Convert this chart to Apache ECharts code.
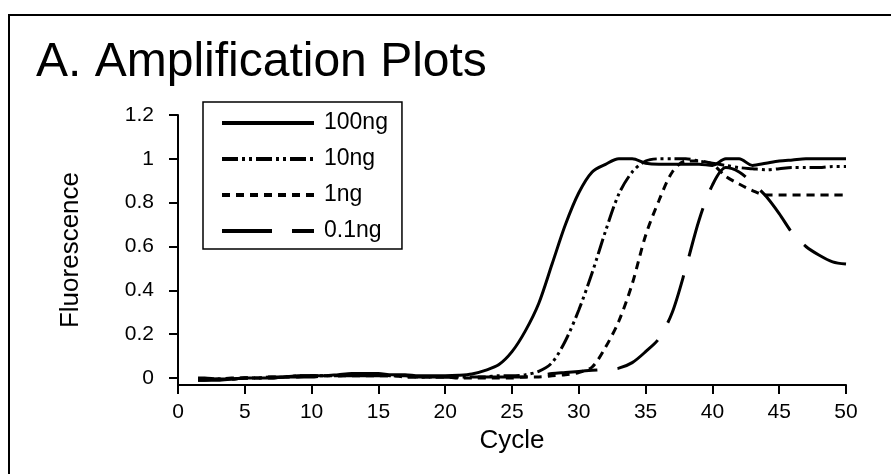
<!DOCTYPE html>
<html>
<head>
<meta charset="utf-8">
<script src="https://cdn.jsdelivr.net/npm/echarts@6/dist/echarts.min.js"></script>
<style>
html, body { margin: 0; padding: 0; background: #fff; }
#chart { width: 891px; height: 474px; }
</style>
</head>
<body>
<div id="chart"></div>
<script>
// cycle numbers on the x axis
var cycles = [1.5, 2, 3, 4, 5, 6, 7, 8, 9, 10,
  11, 12, 13, 14, 15, 16, 17, 18, 19, 20,
  21, 22, 23, 24, 25, 26, 27, 28, 29, 30,
  31, 32, 33, 34, 35, 36, 37, 38, 39, 40,
  41, 42, 43, 44, 45, 46, 47, 48, 49, 50];

var ng100 = [-0.01, -0.01, -0.01, -0.005, 0, 0, 0, 0.005, 0.01, 0.01,
  0.01, 0.015, 0.02, 0.02, 0.02, 0.015, 0.015, 0.01, 0.01, 0.01,
  0.012, 0.018, 0.035, 0.06, 0.12, 0.215, 0.34, 0.52, 0.70, 0.845,
  0.94, 0.975, 1.0, 1.0, 0.98, 0.975, 0.975, 0.975, 0.975, 0.97,
  1.0, 1.0, 0.97, 0.98, 0.99, 0.995, 1.0, 1.0, 1.0, 1.0];

var ng10 = [0, 0, -0.005, -0.005, 0, 0, 0.005, 0.005, 0.01, 0.01,
  0.01, 0.01, 0.015, 0.015, 0.015, 0.01, 0.01, 0.005, 0.005, 0.005,
  0.005, 0.005, 0.005, 0.01, 0.01, 0.015, 0.03, 0.07, 0.17, 0.31,
  0.48, 0.67, 0.84, 0.94, 0.99, 1.0, 1.0, 1.0, 0.99, 0.98,
  0.97, 0.96, 0.955, 0.95, 0.955, 0.96, 0.96, 0.96, 0.965, 0.965];

var ng1 = [-0.005, -0.005, -0.005, 0, 0, 0, 0.005, 0.005, 0.005, 0.01,
  0.01, 0.01, 0.01, 0.01, 0.01, 0.01, 0.005, 0.005, 0.005, 0.005,
  0, 0, 0, 0, 0, 0.005, 0.005, 0.01, 0.015, 0.025,
  0.05, 0.14, 0.26, 0.43, 0.65, 0.81, 0.94, 0.99, 0.99, 0.975,
  0.92, 0.885, 0.855, 0.835, 0.835, 0.835, 0.835, 0.835, 0.835, 0.835];

var ng01 = [-0.01, -0.01, -0.005, -0.005, 0, 0, 0, 0.005, 0.005, 0.005,
  0.01, 0.01, 0.01, 0.01, 0.01, 0.01, 0.005, 0.005, 0.005, 0.005,
  0.005, 0.005, 0.005, 0.005, 0.005, 0.005, 0.01, 0.02, 0.025, 0.03,
  0.035, 0.04, 0.045, 0.07, 0.12, 0.18, 0.30, 0.50, 0.72, 0.88,
  0.96, 0.94, 0.89, 0.83, 0.75, 0.66, 0.60, 0.56, 0.53, 0.52];

var seriesNames = ['100ng', '10ng', '1ng', '0.1ng'];
var yTicks = [0, 0.2, 0.4, 0.6, 0.8, 1, 1.2];

function pairs(vals) {
  return cycles.map(function (c, i) { return [c, vals[i]]; });
}

var font = 'Liberation Sans';
var dashes = ['solid', [16, 4, 3, 4, 3, 4], [8, 6], [50, 20]];
var allVals = [ng100, ng10, ng1, ng01];

var myChart = echarts.init(document.getElementById('chart'));
var option = {
  animation: false,
  backgroundColor: '#fff',
  textStyle: { fontFamily: font, color: '#000' },
  title: {
    text: 'A. Amplification Plots',
    left: 31,
    top: 34,
    textStyle: { fontFamily: font, fontSize: 48, fontWeight: 'normal', color: '#000' }
  },
  graphic: [{
    type: 'polyline',
    shape: { points: [[9, 474], [9, 15], [891, 15]] },
    style: { stroke: '#000', lineWidth: 2, fill: null }
  }],
  legend: {
    data: seriesNames,
    orient: 'vertical',
    left: 203,
    top: 102,
    itemWidth: 92,
    itemHeight: 24,
    itemGap: 12,
    padding: [9, 14, 6, 17],
    borderColor: '#000',
    borderWidth: 1.5,
    lineStyle: { width: 4 },
    itemStyle: { color: 'rgba(0,0,0,0)', borderWidth: 0, opacity: 0 },
    textStyle: { fontFamily: font, fontSize: 23, lineHeight: 24, color: '#000', padding: [0, 0, 0, 5] }
  },
  grid: { left: 178, right: 45, top: 115, bottom: 89 },
  xAxis: {
    type: 'value',
    min: 0,
    max: 50,
    interval: 5,
    name: 'Cycle',
    nameLocation: 'middle',
    nameGap: 43,
    nameTextStyle: { fontFamily: font, fontSize: 26, color: '#000' },
    axisLine: { onZero: false, lineStyle: { color: '#000', width: 2 } },
    axisTick: { length: 9, lineStyle: { color: '#000', width: 2 } },
    axisLabel: { fontFamily: font, fontSize: 21, color: '#000', margin: 17 },
    splitLine: { show: false }
  },
  yAxis: {
    type: 'value',
    min: -0.032,
    max: 1.2,
    name: 'Fluorescence',
    nameLocation: 'middle',
    nameGap: 94,
    nameTextStyle: { fontFamily: font, fontSize: 26, color: '#000' },
    axisLine: { lineStyle: { color: '#000', width: 2 } },
    axisTick: { length: 9, customValues: yTicks, lineStyle: { color: '#000', width: 2 } },
    axisLabel: { fontFamily: font, fontSize: 21, color: '#000', margin: 24, customValues: yTicks },
    splitLine: { show: false }
  },
  series: seriesNames.map(function (name, i) {
    return {
      name: name,
      type: 'line',
      smooth: 0.3,
      symbol: 'none',
      showSymbol: false,
      itemStyle: { color: '#000' },
      lineStyle: { color: '#000', width: 3, type: dashes[i] },
      data: pairs(allVals[i])
    };
  })
};
myChart.setOption(option);
window.onresize = function () {
  myChart.resize();
};
</script>
</body>
</html>
